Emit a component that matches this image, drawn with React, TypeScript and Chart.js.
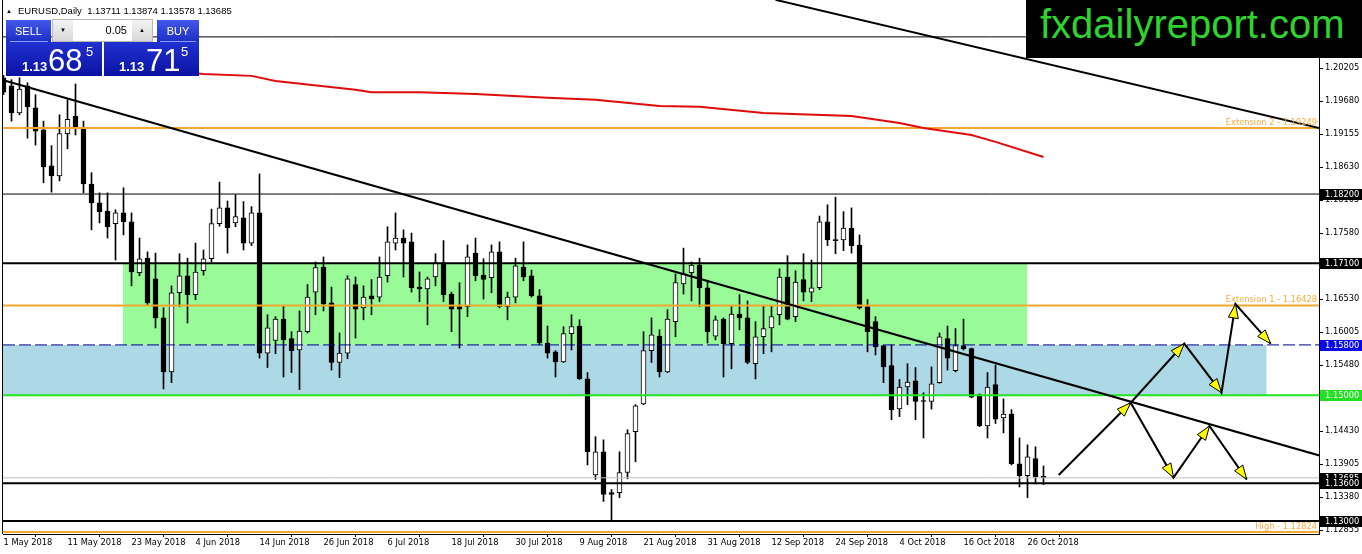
import React, { useEffect, useRef } from "react";
import { Chart, registerables } from "chart.js";

Chart.register(...registerables);

// ---------- data ----------
const dateLabels = [
  "1 May 2018", "11 May 2018", "23 May 2018", "4 Jun 2018", "14 Jun 2018", "26 Jun 2018",
  "6 Jul 2018", "18 Jul 2018", "30 Jul 2018", "9 Aug 2018", "21 Aug 2018", "31 Aug 2018",
  "12 Sep 2018", "24 Sep 2018", "4 Oct 2018", "16 Oct 2018", "26 Oct 2018",
];
const dateLabelBars = [0, 8, 16, 24, 32, 40, 48, 56, 64, 72, 80, 88, 96, 104, 112, 120, 128];

const priceTicks = [
  1.12855, 1.1338, 1.13905, 1.1443, 1.14955, 1.1548, 1.16005, 1.1653,
  1.17055, 1.1758, 1.18105, 1.1863, 1.19155, 1.1968, 1.20205, 1.2073,
];

const opens = [
  1.2005, 1.1992, 1.1949, 1.1992, 1.1957, 1.1922, 1.1865, 1.1849, 1.1916, 1.1944,
  1.1925, 1.1836, 1.1806, 1.1793, 1.1773, 1.1790, 1.1776, 1.1695, 1.1718, 1.1685,
  1.1623, 1.1537, 1.1663, 1.1690, 1.1660, 1.1698, 1.1717, 1.1773, 1.1798, 1.1774,
  1.1782, 1.1742, 1.1790, 1.1567, 1.1587, 1.1621, 1.1590, 1.1572, 1.1601, 1.1664,
  1.1704, 1.1647, 1.1552, 1.1567, 1.1676, 1.1639, 1.1658, 1.1656, 1.1690, 1.1742,
  1.1750, 1.1744, 1.1672, 1.1669, 1.1688, 1.1711, 1.1661, 1.1641, 1.1641, 1.1726,
  1.1691, 1.1687, 1.1728, 1.1641, 1.1656, 1.1704, 1.1690, 1.1658, 1.1583, 1.1569,
  1.1553, 1.1598, 1.1610, 1.1526, 1.1373, 1.1410, 1.1345, 1.1345, 1.1377, 1.1442,
  1.1486, 1.1571, 1.1594, 1.1537, 1.1617, 1.1677, 1.1695, 1.1707, 1.1671, 1.1594,
  1.1621, 1.1582, 1.1629, 1.1623, 1.1550, 1.1593, 1.1607, 1.1628, 1.1688, 1.1625,
  1.1684, 1.1664, 1.1671, 1.1776, 1.1747, 1.1747, 1.1766, 1.1739, 1.1641, 1.1617,
  1.1579, 1.1547, 1.1478, 1.1513, 1.1523, 1.1491, 1.1490, 1.1520, 1.1590, 1.1539,
  1.1579, 1.1574, 1.1501, 1.1451, 1.1517, 1.1464, 1.1470, 1.1391, 1.1372, 1.1399,
  1.13711,
];
const highs = [
  1.2009, 1.2002, 1.2005, 1.1997, 1.1978, 1.1936, 1.1897, 1.1946, 1.1970, 1.1995,
  1.1936, 1.1854, 1.1822, 1.1822, 1.1795, 1.1830, 1.1790, 1.1750, 1.1728, 1.1726,
  1.1639, 1.1674, 1.1725, 1.1718, 1.1742, 1.1731, 1.1796, 1.1839, 1.1809, 1.1819,
  1.1808, 1.1800, 1.1852, 1.1628, 1.1625, 1.1642, 1.1601, 1.1634, 1.1676, 1.1712,
  1.1720, 1.1672, 1.1599, 1.1690, 1.1688, 1.1674, 1.1684, 1.1720, 1.1768, 1.1790,
  1.1763, 1.1758, 1.1696, 1.1688, 1.1725, 1.1746, 1.1664, 1.1679, 1.1739, 1.1750,
  1.1717, 1.1739, 1.1744, 1.1664, 1.1718, 1.1744, 1.1699, 1.1668, 1.1610, 1.1571,
  1.1609, 1.1628, 1.1620, 1.1536, 1.1434, 1.1429, 1.1350, 1.1410, 1.1445, 1.1485,
  1.1601, 1.1623, 1.1604, 1.1636, 1.1693, 1.1734, 1.1712, 1.1718, 1.1682, 1.1626,
  1.1623, 1.1641, 1.1660, 1.1650, 1.1617, 1.1642, 1.1642, 1.1701, 1.1722, 1.1698,
  1.1725, 1.1715, 1.1785, 1.1803, 1.1815, 1.1792, 1.1798, 1.1755, 1.1652, 1.1625,
  1.1579, 1.1580, 1.1525, 1.1550, 1.1544, 1.1504, 1.1545, 1.1599, 1.1610, 1.1606,
  1.1621, 1.1575, 1.1502, 1.1536, 1.1548, 1.1494, 1.1477, 1.1432, 1.1421, 1.1418,
  1.13874,
];
const lows = [
  1.1978, 1.1936, 1.1946, 1.1909, 1.1898, 1.1838, 1.1823, 1.1841, 1.1892, 1.1914,
  1.1822, 1.1763, 1.1774, 1.1750, 1.1715, 1.1755, 1.1674, 1.1690, 1.1644, 1.1607,
  1.1510, 1.1520, 1.1641, 1.1615, 1.1652, 1.1691, 1.1712, 1.1769, 1.1726, 1.1768,
  1.1731, 1.1738, 1.1559, 1.1544, 1.1566, 1.1529, 1.1536, 1.1509, 1.1599, 1.1628,
  1.1634, 1.1540, 1.1528, 1.1558, 1.1591, 1.1620, 1.1628, 1.1649, 1.1680, 1.1731,
  1.1688, 1.1664, 1.1649, 1.1612, 1.1674, 1.1649, 1.1601, 1.1575, 1.1625, 1.1682,
  1.1653, 1.1663, 1.1639, 1.1620, 1.1647, 1.1682, 1.1656, 1.1580, 1.1559, 1.1529,
  1.1552, 1.1572, 1.1525, 1.1389, 1.1366, 1.1331, 1.1302, 1.1337, 1.1367, 1.1394,
  1.1485, 1.1552, 1.1529, 1.1536, 1.1593, 1.1661, 1.1650, 1.1641, 1.1583, 1.1588,
  1.1529, 1.1542, 1.1604, 1.1550, 1.1526, 1.1566, 1.1569, 1.1612, 1.1620, 1.1617,
  1.1650, 1.1649, 1.1668, 1.1738, 1.1725, 1.1730, 1.1726, 1.1637, 1.1569, 1.1564,
  1.1520, 1.1461, 1.1466, 1.1485, 1.1461, 1.1432, 1.1478, 1.1519, 1.1540, 1.1537,
  1.1572, 1.1496, 1.1450, 1.1432, 1.1455, 1.1440, 1.1389, 1.1354, 1.1337, 1.1359,
  1.13578,
];
const closes = [
  1.1982, 1.1949, 1.1987, 1.1959, 1.1920, 1.1863, 1.1849, 1.1916, 1.1939, 1.1927,
  1.1836, 1.1806, 1.1792, 1.1768, 1.1790, 1.1776, 1.1696, 1.1717, 1.1647, 1.1623,
  1.1537, 1.1663, 1.1690, 1.1660, 1.1696, 1.1717, 1.1773, 1.1798, 1.1766, 1.1784,
  1.1742, 1.1790, 1.1567, 1.1607, 1.1621, 1.1588, 1.1571, 1.1602, 1.1656, 1.1703,
  1.1645, 1.1552, 1.1567, 1.1685, 1.1637, 1.1656, 1.1653, 1.1688, 1.1744, 1.1750,
  1.1742, 1.1671, 1.1669, 1.1685, 1.1711, 1.1660, 1.1637, 1.1637, 1.1720, 1.1690,
  1.1684, 1.1728, 1.1641, 1.1656, 1.1706, 1.1688, 1.1658, 1.1583, 1.1567, 1.1553,
  1.1598, 1.1609, 1.1526, 1.1410, 1.1410, 1.1342, 1.1342, 1.1377, 1.1439, 1.1483,
  1.1571, 1.1596, 1.1537, 1.1621, 1.1679, 1.1693, 1.1707, 1.1671, 1.1601, 1.1620,
  1.1582, 1.1629, 1.1623, 1.1552, 1.1593, 1.1606, 1.1625, 1.1688, 1.1621, 1.1680,
  1.1664, 1.1671, 1.1776, 1.1747, 1.1746, 1.1766, 1.1738, 1.1639, 1.1601, 1.1577,
  1.1545, 1.1477, 1.1513, 1.1521, 1.1490, 1.1490, 1.1518, 1.1593, 1.1559, 1.1579,
  1.1574, 1.1497, 1.1451, 1.1513, 1.1462, 1.1470, 1.1391, 1.1372, 1.1402, 1.1370,
  1.13685,
];

const maBars = [24, 25, 31, 34, 44, 46, 52, 59, 68, 74, 82, 87, 95, 106, 112, 115, 121, 124, 130];
const maValues = [
  1.2012, 1.2011, 1.2008, 1.2000, 1.1986, 1.1982, 1.1982, 1.1979, 1.1973, 1.1970,
  1.1960, 1.1959, 1.1949, 1.1944, 1.1933, 1.1925, 1.1914, 1.1903, 1.1879,
];

const levelPrices = [1.207, 1.19249, 1.182, 1.171, 1.16428, 1.158, 1.15, 1.13685, 1.136, 1.13, 1.12824];
const levelTexts = ["Extension 2 - 1.19249", "Extension 1 - 1.16428", "High - 1.12824"];
const levelTextPrices = [1.19249, 1.16428, 1.12824];
const priceTags = [1.182, 1.171, 1.158, 1.15, 1.13685, 1.136, 1.13];

const zoneBars = [[14.9, 128], [-2, 157.9]];
const zonePrices = [[1.171, 1.158], [1.158, 1.15]];

const trendBars = [[0, 164.5], [96.5, 164.5]];
const trendPrices = [[1.2001, 1.1404], [1.2129, 1.1925]];

const arrowBarsA = [131.9, 140.9, 146.25, 150.75, 155.4];
const arrowPricesA = [1.1373, 1.1488, 1.1369, 1.1451, 1.1366];
const arrowBarsB = [140.9, 147.6, 152.25, 154.0, 158.4];
const arrowPricesB = [1.1488, 1.1582, 1.1504, 1.1645, 1.1582];

// ---------- styles ----------
const ORANGE = "#f0a830";
const levelStyles = [
  { color: "#000000", width: 1, dash: [] as number[] },
  { color: ORANGE, width: 2, dash: [] },
  { color: "#000000", width: 1, dash: [] },
  { color: "#000000", width: 2, dash: [] },
  { color: ORANGE, width: 2, dash: [] },
  { color: "#00008b", width: 1, dash: [12, 4] },
  { color: "#22e622", width: 2, dash: [] },
  { color: "#c0c0c0", width: 1, dash: [] },
  { color: "#000000", width: 2, dash: [] },
  { color: "#000000", width: 2, dash: [] },
  { color: ORANGE, width: 2, dash: [] },
];
const priceTagColors = ["#000000", "#000000", "#0a0ae8", "#22e022", "#000000", "#000000", "#000000"];
const zoneColors = ["#98fb98", "#add8e6"];
const FONT = "'DejaVu Sans'";

const X_MIN = -0.0625;
const X_MAX = X_MIN + 164.5;
const Y_MAX = 1.21287;
const Y_MIN = Y_MAX - 534 / 6286;

const overlayPlugin = {
  id: "mt4overlay",
  afterDatasetsDraw(chart: any) {
    const { ctx, chartArea, scales } = chart;
    const xs = scales.x;
    const ys = scales.y;
    ctx.save();
    ctx.beginPath();
    ctx.rect(chartArea.left, chartArea.top, chartArea.right - chartArea.left, chartArea.bottom - chartArea.top);
    ctx.clip();
    const paths: [number[], number[]][] = [
      [arrowBarsA, arrowPricesA],
      [arrowBarsB, arrowPricesB],
    ];
    paths.forEach(([bs, ps]) => {
      for (let k = 1; k < bs.length; k++) {
        const x0 = xs.getPixelForValue(bs[k - 1]);
        const y0 = ys.getPixelForValue(ps[k - 1]);
        const x1 = xs.getPixelForValue(bs[k]);
        const y1 = ys.getPixelForValue(ps[k]);
        const a = Math.atan2(y1 - y0, x1 - x0);
        const L = 14;
        const W = 5;
        const bx = x1 - L * Math.cos(a);
        const by = y1 - L * Math.sin(a);
        ctx.beginPath();
        ctx.moveTo(x1, y1);
        ctx.lineTo(bx + W * Math.sin(a), by - W * Math.cos(a));
        ctx.lineTo(bx - W * Math.sin(a), by + W * Math.cos(a));
        ctx.closePath();
        ctx.fillStyle = "#ffff00";
        ctx.fill();
        ctx.strokeStyle = "#000000";
        ctx.lineWidth = 1;
        ctx.stroke();
      }
    });
    ctx.font = `8.3px ${FONT}`;
    ctx.fillStyle = "#f2ad40";
    ctx.textAlign = "right";
    ctx.textBaseline = "alphabetic";
    levelTexts.forEach((t, i) => {
      ctx.fillText(t, chartArea.right - 2, ys.getPixelForValue(levelTextPrices[i]) - 3);
    });
    ctx.restore();
  },
  afterDraw(chart: any) {
    const { ctx, chartArea, scales } = chart;
    const ys = scales.y;
    ctx.save();
    ctx.strokeStyle = "#000000";
    ctx.lineWidth = 1;
    ctx.beginPath();
    ctx.moveTo(chartArea.left - 0.5, 0);
    ctx.lineTo(chartArea.left - 0.5, chartArea.bottom);
    ctx.stroke();
    ctx.font = `8.3px ${FONT}`;
    ctx.textAlign = "left";
    ctx.textBaseline = "middle";
    priceTags.forEach((p, i) => {
      const yy = ys.getPixelForValue(p);
      ctx.fillStyle = priceTagColors[i];
      ctx.fillRect(chartArea.right + 1, Math.round(yy) - 5, chart.width - chartArea.right - 1, 11);
      ctx.fillStyle = "#ffffff";
      ctx.fillText(p.toFixed(5), chartArea.right + 6, Math.round(yy) + 0.5);
    });
    ctx.restore();
  },
};

function buildConfig(): any {
  const idx = opens.map((_, i) => i);
  const datasets: any[] = [];

  zoneBars.forEach((zb, i) => {
    datasets.push({
      type: "line",
      data: [
        { x: zb[0], y: zonePrices[i][0] },
        { x: zb[1], y: zonePrices[i][0] },
      ],
      fill: { value: zonePrices[i][1] },
      backgroundColor: zoneColors[i],
      borderColor: "rgba(0,0,0,0)",
      borderWidth: 1,
      pointRadius: 0,
      order: 100 + i,
    });
  });

  datasets.push({
    type: "bar",
    data: idx.map((i) => ({ x: i, y: [opens[i], closes[i]] })),
    backgroundColor: idx.map((i) => (closes[i] >= opens[i] ? "#ffffff" : "#000000")),
    borderColor: "#000000",
    borderWidth: 1,
    borderSkipped: false,
    barThickness: 5,
    minBarLength: 1,
    grouped: false,
    order: 49,
  });
  datasets.push({
    type: "bar",
    data: idx.map((i) => ({ x: i, y: [lows[i], highs[i]] })),
    backgroundColor: "#000000",
    borderWidth: 0,
    barThickness: 1,
    minBarLength: 1,
    grouped: false,
    order: 50,
  });

  levelPrices.forEach((p, i) => {
    datasets.push({
      type: "line",
      data: [
        { x: X_MIN - 2, y: p },
        { x: X_MAX + 2, y: p },
      ],
      borderColor: levelStyles[i].color,
      borderWidth: levelStyles[i].width,
      borderDash: levelStyles[i].dash,
      pointRadius: 0,
      fill: false,
      order: 40,
    });
  });

  datasets.push({
    type: "line",
    data: maBars.map((b, i) => ({ x: b, y: maValues[i] })),
    borderColor: "#e00b0b",
    borderWidth: 2,
    pointRadius: 0,
    fill: false,
    tension: 0,
    order: 30,
  });

  trendBars.forEach((tb, i) => {
    datasets.push({
      type: "line",
      data: [
        { x: tb[0], y: trendPrices[i][0] },
        { x: tb[1], y: trendPrices[i][1] },
      ],
      borderColor: "#000000",
      borderWidth: 2,
      pointRadius: 0,
      fill: false,
      order: 20,
    });
  });

  [
    [arrowBarsA, arrowPricesA],
    [arrowBarsB, arrowPricesB],
  ].forEach(([bs, ps]) => {
    datasets.push({
      type: "line",
      data: bs.map((b, i) => ({ x: b, y: ps[i] })),
      borderColor: "#000000",
      borderWidth: 2,
      pointRadius: 0,
      fill: false,
      tension: 0,
      order: 10,
    });
  });

  return {
    type: "line",
    data: { datasets },
    plugins: [overlayPlugin],
    options: {
      animation: false,
      responsive: false,
      devicePixelRatio: 1,
      events: [],
      layout: { padding: { left: 3, right: 0, top: 0, bottom: 0 } },
      plugins: { legend: { display: false }, tooltip: { enabled: false } },
      scales: {
        x: {
          type: "linear",
          min: X_MIN,
          max: X_MAX,
          offset: false,
          grid: { drawOnChartArea: false, drawTicks: true, tickLength: 3, color: "#000000" },
          border: { display: true, color: "#000000", width: 1 },
          ticks: {
            align: "start",
            autoSkip: false,
            maxRotation: 0,
            minRotation: 0,
            padding: 1,
            color: "#000000",
            font: { family: FONT, size: 8.3 },
            callback: (_v: any, i: number) => dateLabels[i] ?? "",
          },
          afterBuildTicks: (s: any) => {
            s.ticks = dateLabelBars.map((v) => ({ value: v }));
          },
          afterFit: (s: any) => {
            s.height = 20;
            s.paddingLeft = 0;
            s.paddingRight = 0;
          },
        },
        y: {
          type: "linear",
          position: "right",
          min: Y_MIN,
          max: Y_MAX,
          grid: { drawOnChartArea: false, drawTicks: true, tickLength: 4, color: "#000000" },
          border: { display: true, color: "#000000", width: 1 },
          ticks: {
            autoSkip: false,
            padding: 2,
            color: "#000000",
            font: { family: FONT, size: 8.3 },
            callback: (v: any) => Number(v).toFixed(5),
          },
          afterBuildTicks: (s: any) => {
            s.ticks = priceTicks.map((v) => ({ value: v }));
          },
          afterFit: (s: any) => {
            s.width = 43;
            s.paddingTop = 0;
            s.paddingBottom = 0;
          },
        },
      },
    },
  };
}

const btnBg = "linear-gradient(#4358ea, #1c2dc4)";
const priceBg = "linear-gradient(#2032d0, #0b12a2)";

const abs = (s: React.CSSProperties): React.CSSProperties => ({ position: "absolute", ...s });

export default function App() {
  const ref = useRef<HTMLCanvasElement>(null);
  useEffect(() => {
    const chart = new Chart(ref.current as HTMLCanvasElement, buildConfig());
    return () => chart.destroy();
  }, []);

  const last = opens.length - 1;
  const headerText = `EURUSD,Daily  ${opens[last].toFixed(5)} ${highs[last].toFixed(5)} ${lows[last].toFixed(5)} ${closes[last].toFixed(5)}`;

  const bigDigits = (left: number, small: string, big: string, sup: string, supLeft: number, bigLeft: number) => (
    <>
      <div style={abs({ left, top: 60, fontFamily: "'Liberation Sans'", fontWeight: 700, fontSize: 13, lineHeight: "13px", color: "#fff" })}>{small}</div>
      <div style={abs({ left: bigLeft, top: 45, fontFamily: "'Liberation Sans'", fontSize: 31, lineHeight: "31px", color: "#fff" })}>{big}</div>
      <div style={abs({ left: supLeft, top: 45, fontFamily: "'Liberation Sans'", fontSize: 13, lineHeight: "13px", color: "#fff" })}>{sup}</div>
    </>
  );

  return (
    <div style={{ position: "fixed", left: 0, top: 0, width: 1362, height: 554, background: "#ffffff", overflow: "hidden" }}>
      <canvas ref={ref} width={1362} height={554} style={{ position: "absolute", left: 0, top: 0, width: 1362, height: 554 }} />

      {/* header */}
      <div style={abs({ left: 6, top: 5, fontSize: 6, lineHeight: "12px", color: "#000" })}>▲</div>
      <div style={abs({ left: 18, top: 5, fontFamily: "'Liberation Sans'", fontSize: 9.5, lineHeight: "12px", whiteSpace: "pre", color: "#000" })}>
        {headerText}
      </div>

      {/* one-click trading panel */}
      <div style={abs({ left: 6, top: 20, width: 45, height: 22, background: btnBg, color: "#fff", fontFamily: "'Liberation Sans'", fontSize: 11, lineHeight: "22px", textAlign: "center" })}>SELL</div>
      <div style={abs({ left: 52, top: 19, width: 101, height: 23, background: "#ffffff", border: "1px solid #b8b8b8", boxSizing: "border-box" })} />
      <div style={abs({ left: 53, top: 20, width: 20, height: 21, background: "linear-gradient(#f4f4f4, #d8d8d8)", fontSize: 6, lineHeight: "21px", textAlign: "center", color: "#000" })}>▼</div>
      <div style={abs({ left: 73, top: 20, width: 54, height: 21, fontFamily: "'Liberation Sans'", fontSize: 11, lineHeight: "21px", textAlign: "right", color: "#000" })}>0.05</div>
      <div style={abs({ left: 132, top: 20, width: 20, height: 21, background: "linear-gradient(#f4f4f4, #d8d8d8)", fontSize: 6, lineHeight: "21px", textAlign: "center", color: "#000" })}>▲</div>
      <div style={abs({ left: 157, top: 20, width: 42, height: 22, background: btnBg, color: "#fff", fontFamily: "'Liberation Sans'", fontSize: 11, lineHeight: "22px", textAlign: "center" })}>BUY</div>

      <div style={abs({ left: 6, top: 42, width: 96, height: 34, background: priceBg })} />
      <div style={abs({ left: 104, top: 42, width: 95, height: 34, background: priceBg })} />
      <div style={abs({ left: 10, top: 41, width: 38, height: 1, background: "#8d9cff" })} />
      <div style={abs({ left: 160, top: 41, width: 36, height: 1, background: "#8d9cff" })} />
      {bigDigits(22, "1.13", "68", "5", 86, 48)}
      {bigDigits(119, "1.13", "71", "5", 181, 146)}

      {/* logo */}
      <div style={abs({ left: 1026, top: 0, width: 336, height: 58, background: "#000000" })}>
        <div style={abs({ left: 14, top: 4, fontFamily: "'Liberation Sans'", fontSize: 40, lineHeight: "40px", color: "#2fd32f", whiteSpace: "nowrap" })}>fxdailyreport.com</div>
      </div>
    </div>
  );
}
